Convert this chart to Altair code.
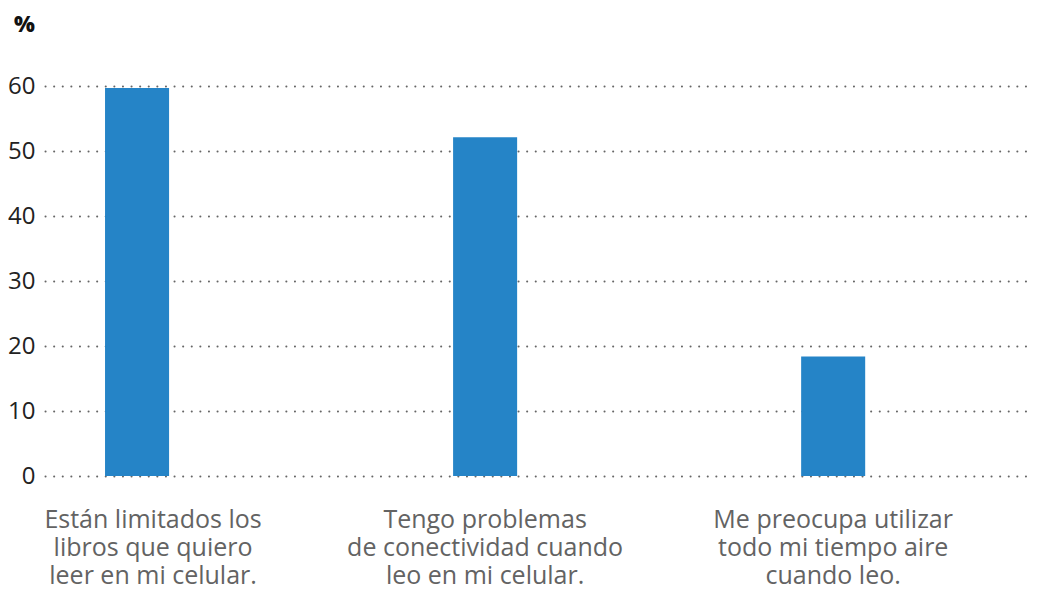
import altair as alt
import pandas as pd

categories = [
    "Están limitados los|libros que quiero|leer en mi celular.",
    "Tengo problemas|de conectividad cuando|leo en mi celular.",
    "Me preocupa utilizar|todo mi tiempo aire|cuando leo.",
]
values = [59.7, 52.1, 18.4]
y_ticks = [0, 10, 20, 30, 40, 50, 60]

df = pd.DataFrame({"cat": categories, "val": values})

FONT = "Open Sans"

chart = (
    alt.Chart(df)
    .mark_bar(color="#2584C7")
    .encode(
        x=alt.X(
            "cat:N",
            sort=categories,
            scale=alt.Scale(paddingInner=0.816, paddingOuter=0.323, align=0.267),
            axis=alt.Axis(
                title=None,
                labelAngle=0,
                labelExpr="split(datum.label, '|')",
                labelFont=FONT,
                labelFontSize=25,
                labelColor="#636363",
                labelLineHeight=28,
                labelPadding=31,
                labelBaseline="top",
                labelLimit=400,
                labelOffset=alt.ExprRef("datum.index == 0 ? 16 : 0"),
                ticks=False,
                domain=False,
                grid=False,
            ),
        ),
        y=alt.Y(
            "val:Q",
            scale=alt.Scale(domain=[0, 60], nice=False),
            axis=alt.Axis(
                values=y_ticks,
                title="%",
                titleAngle=0,
                titleFont=FONT,
                titleFontSize=22,
                titleFontWeight=800,
                titleColor="#111111",
                titleX=-21,
                titleY=-62,
                titleAlign="center",
                titleBaseline="middle",
                labelFont=FONT,
                labelFontSize=24,
                labelColor="#222222",
                labelPadding=10,
                ticks=False,
                domain=False,
                grid=True,
                gridColor="#666666",
                gridWidth=2,
                gridDash=[0.1, 8.5],
                gridCap="round",
            ),
        ),
    )
    .properties(
        width=985,
        height=390,
        autosize=alt.AutoSizeParams(type="none"),
        padding={"left": 37, "top": 78, "right": 0, "bottom": 115},
    )
    .configure_view(stroke=None)
)

chart.save("out.html", embed_options={"renderer": "svg", "actions": False})
